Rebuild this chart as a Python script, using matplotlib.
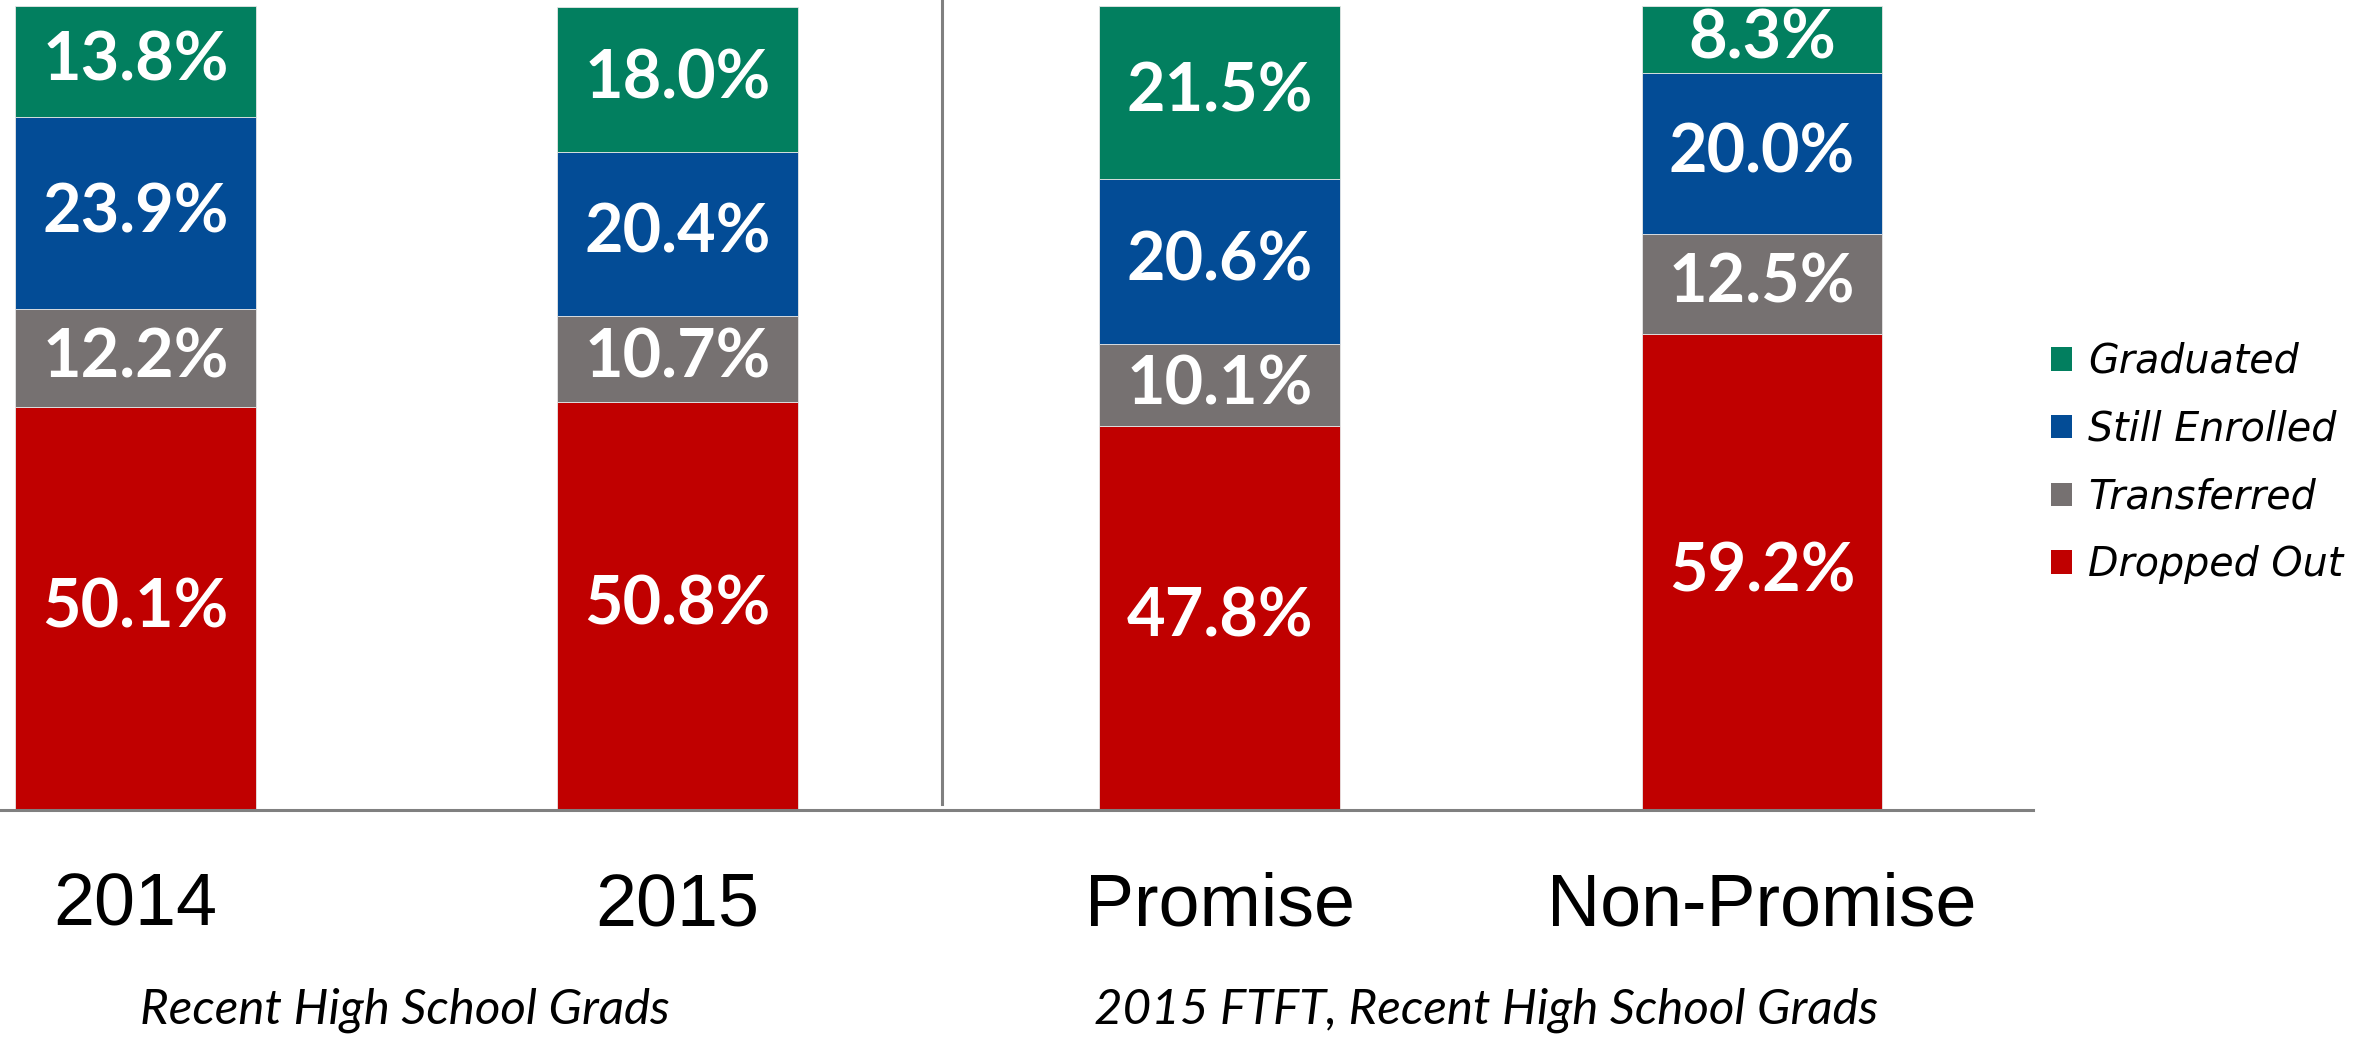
import matplotlib
matplotlib.use("Agg")
import matplotlib.pyplot as plt
from matplotlib.lines import Line2D
from matplotlib.patches import Patch
import numpy as np

categories = ["2014", "2015", "Promise", "Non-Promise"]
dropped_out = [50.1, 50.8, 47.8, 59.2]
transferred = [12.2, 10.7, 10.1, 12.5]
still_enrolled = [23.9, 20.4, 20.6, 20.0]
graduated = [13.8, 18.0, 21.5, 8.3]
series_names = ["Dropped Out", "Transferred", "Still Enrolled", "Graduated"]
group_labels = ["Recent High School Grads", "2015 FTFT, Recent High School Grads"]

colors = {"Dropped Out": "#C00000", "Transferred": "#767171",
          "Still Enrolled": "#034C96", "Graduated": "#027F5F"}

W, H = 2364, 1038
fig = plt.figure(figsize=(W / 100, H / 100), dpi=100)
ax = fig.add_axes([0, (H - 810) / H, 2033 / W, (810 - 6) / H])

x = np.arange(len(categories))
series = [dropped_out, transferred, still_enrolled, graduated]
bottom = np.zeros(len(categories))
for name, vals in zip(series_names, series):
    vals = np.array(vals)
    ax.bar(x, vals, width=0.444, bottom=bottom, color=colors[name],
           edgecolor="#e6e6e6", linewidth=0.6, label=name)
    for xi, b, v in zip(x, bottom, vals):
        ax.text(xi, b + v / 2, f"{v:.1f}%", ha="center", va="center",
                color="white", fontsize=48, fontweight="bold", family="Lato")
    bottom += vals

ax.set_xlim(-0.25, 3.5)
ax.set_ylim(0, 100)
for s in ["top", "right", "left"]:
    ax.spines[s].set_visible(False)
ax.spines["bottom"].set_color("#808080")
ax.spines["bottom"].set_linewidth(2.2)
ax.set_yticks([])
ax.set_xticks([])

# separator line
sep_x = 942 / W
fig.add_artist(Line2D([sep_x, sep_x], [(H - 804) / H, 1.0], transform=fig.transFigure,
                      color="#808080", linewidth=2.2))

# category labels
cat_y = -(925 - 810) / (810 - 6)
for xi, c in zip(x, categories):
    ax.text(xi, cat_y, c, transform=ax.get_xaxis_transform(), ha="center", va="baseline",
            fontsize=53, family="Liberation Sans")

# group labels
fig.text(405 / W, (H - 1024) / H, group_labels[0], ha="center", va="baseline",
         fontsize=35.5, family="Lato", style="italic", fontweight="normal", color="black")
fig.text(1486 / W, (H - 1024) / H, group_labels[1], ha="center", va="baseline",
         fontsize=35.5, family="Lato", style="italic", fontweight="normal", color="black")

# legend
handles = [Patch(facecolor=colors[n], edgecolor="none") for n in series_names[::-1]]
leg = fig.legend(handles, series_names[::-1], loc="center left",
                 bbox_to_anchor=(2015 / W, (H - 463) / H), frameon=False,
                 prop={"family": "DejaVu Sans", "style": "oblique", "size": 28.5},
                 handlelength=0.55, handleheight=0.55, handletextpad=0.4,
                 labelspacing=0.73)

fig.savefig("out.png", dpi=100, facecolor="white")
